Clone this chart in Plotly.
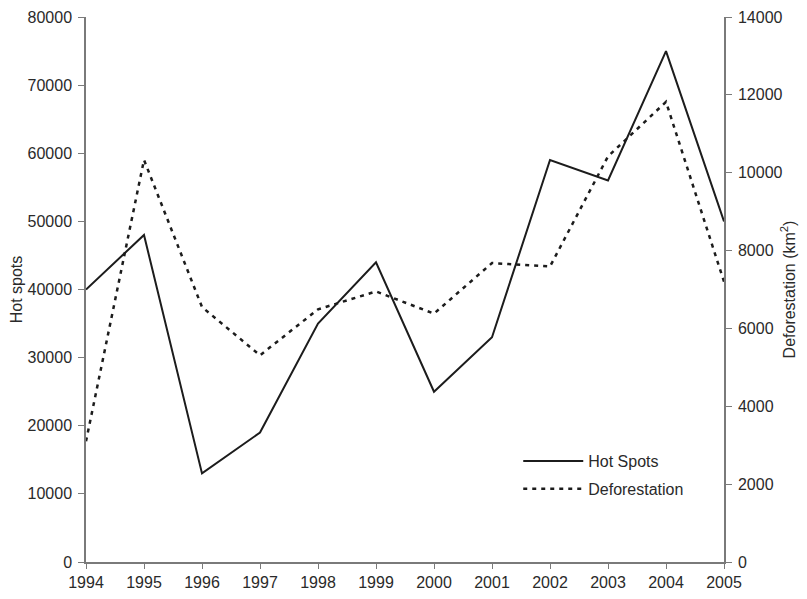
import plotly.graph_objects as go

years = [1994, 1995, 1996, 1997, 1998, 1999, 2000, 2001, 2002, 2003, 2004, 2005]
hot_spots = [40000, 48000, 13000, 19000, 35000, 44000, 25000, 33000, 59000, 56000, 75000, 50000]
deforestation = [3100, 10330, 6550, 5310, 6490, 6950, 6380, 7680, 7590, 10420, 11820, 7200]

left_ticks = [0, 10000, 20000, 30000, 40000, 50000, 60000, 70000, 80000]
right_ticks = [0, 2000, 4000, 6000, 8000, 10000, 12000, 14000]

FONT = "Liberation Sans, Arial, sans-serif"
TXT = "#2a2a2a"
AX = "#7a7a7a"
LINE = "#1c1c1c"

fig = go.Figure()
fig.add_trace(go.Scatter(
    x=years, y=hot_spots, name="Hot Spots", mode="lines", yaxis="y",
    line=dict(color=LINE, width=2), legendgroup="a"))
fig.add_trace(go.Scatter(
    x=years, y=deforestation, name="Deforestation", mode="lines", yaxis="y2",
    line=dict(color=LINE, width=2.5, dash="4px,5px"),
    legendgroup="b"))

common_y = dict(showgrid=False, zeroline=False, tickfont=dict(family=FONT, size=16, color=TXT),
                tickcolor=AX, tickwidth=1.3, automargin=False)

fig.update_layout(
    width=799, height=591,
    paper_bgcolor="white", plot_bgcolor="white",
    margin=dict(l=78, r=83, t=9, b=37),
    font=dict(family=FONT, size=16, color=TXT),
    xaxis=dict(range=[1994, 2005], tickvals=years, ticktext=[str(y) for y in years],
               ticks="outside", ticklen=5, tickcolor=AX, tickwidth=1.3, automargin=False,
               showline=True, linecolor=AX, linewidth=1.5, showgrid=False, zeroline=False,
               tickfont=dict(family=FONT, size=16, color=TXT)),
    yaxis=dict(range=[0, 80000], tickvals=left_ticks, tickformat="d",
               ticks="outside", ticklen=6, showline=True, linecolor=AX, linewidth=1.5,
               ticklabelstandoff=3,
               title=dict(text="Hot spots", font=dict(family=FONT, size=16, color=TXT), standoff=10),
               **common_y),
    yaxis2=dict(range=[0, 14000], tickvals=right_ticks, tickformat="d", overlaying="y", side="right",
                anchor="x", ticks="outside", ticklen=6, showline=True, linecolor=AX, linewidth=1.5,
                ticklabelstandoff=3,
                title=dict(text="Deforestation (km<sup>2</sup>)", font=dict(family=FONT, size=16, color=TXT),
                           standoff=2),
                **common_y),
    yaxis3=dict(range=[0, 80000], tickvals=left_ticks, overlaying="y", side="left", anchor="x",
                ticks="inside", ticklen=6, showticklabels=False, showline=False, automargin=False,
                showgrid=False, zeroline=False, tickcolor=AX, tickwidth=1.3),
    yaxis4=dict(range=[0, 14000], tickvals=right_ticks, overlaying="y", side="right", anchor="x",
                ticks="inside", ticklen=6, showticklabels=False, showline=False, automargin=False,
                showgrid=False, zeroline=False, tickcolor=AX, tickwidth=1.3),
    showlegend=True,
    legend=dict(x=0.6775, y=0.2165, xanchor="left", yanchor="top", bgcolor="rgba(0,0,0,0)",
                font=dict(family=FONT, size=16, color=TXT), tracegroupgap=4,
                itemwidth=60),
)

fig.write_html("out.html")
